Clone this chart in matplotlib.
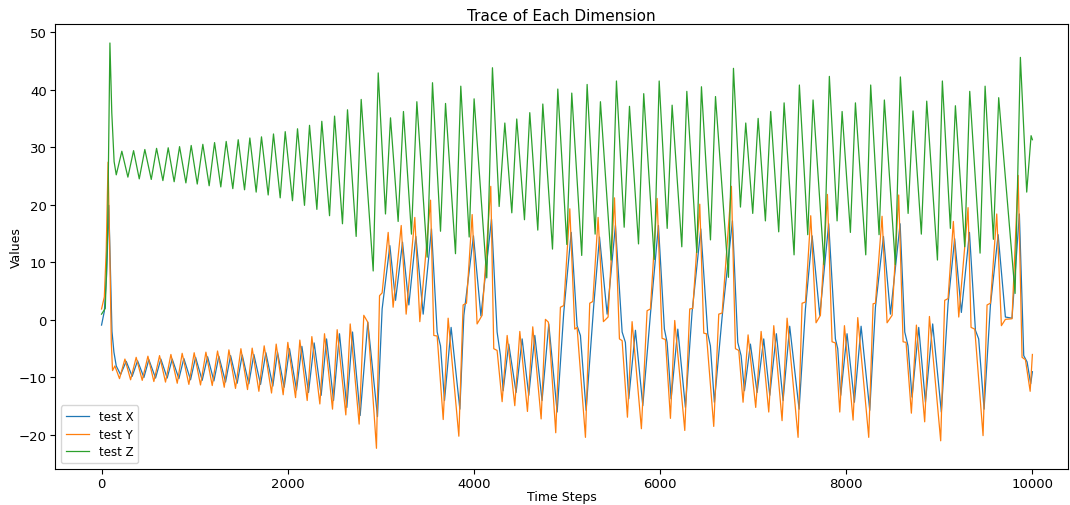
import numpy as np
from matplotlib import pyplot as plt

# (time step, value) pairs: extrema and shoulders
test_x = [
    (0, -0.9), (30, 1.5), (55, 8.0), (78, 19.9), (95, 9.0), (112, -2.0), (133, -5.6), (158, -8.0), (204, -9.5),
    (265, -7.2), (329, -9.8), (387, -7.1), (455, -10.0), (508, -6.9), (580, -10.1), (637, -6.8), (705, -10.1),
    (759, -6.8), (831, -10.2), (884, -6.7), (956, -10.4), (1010, -6.5), (1081, -10.5), (1139, -6.4), (1207, -10.6),
    (1260, -6.3), (1332, -10.8), (1386, -6.2), (1457, -11.0), (1511, -6.1), (1582, -11.1), (1636, -6.0),
    (1708, -11.2), (1765, -5.7), (1840, -11.5), (1890, -5.6), (1962, -11.7),
    (2019, -5.0), (2094, -12.2), (2152, -4.6), (2223, -12.6), (2284, -4.0), (2359, -13.1), (2417, -3.3),
    (2492, -14.0), (2556, -2.4), (2635, -15.2), (2696, -2.1), (2778, -16.6), (2860, -0.4), (2964, -16.8),
    (3014, 1.9), (3097, 12.9), (3158, 3.4), (3233, 13.5), (3301, 2.6), (3376, 14.5), (3455, 1.0), (3544, 15.8),
    (3605, -2.1), (3641, -4.5), (3684, -14.0), (3755, -1.3), (3849, -15.5), (3892, 0.8), (3995, 14.6),
    (4075, 0.7), (4189, 17.5), (4249, -2.1), (4285, -6.2), (4314, -12.3), (4374, -4.2), (4453, -12.6),
    (4518, -3.3), (4589, -13.1), (4654, -2.7), (4732, -14.0), (4804, -0.7), (4894, -16.0), (4965, 1.3),
    (5045, 15.2), (5108, -1.0), (5144, -2.7), (5205, -15.7), (5287, 2.5), (5349, 14.4), (5431, 1.0),
    (5520, 16.4), (5592, -2.1), (5627, -3.9), (5663, -13.7), (5735, -1.8), (5814, -14.9), (5896, 1.0),
    (5982, 16.4), (6046, -1.6), (6075, -3.9), (6118, -13.7), (6190, -1.6), (6272, -15.2), (6343, 1.3),
    (6437, 15.8), (6512, -2.4), (6540, -4.5), (6583, -14.3), (6666, 0.5), (6777, 17.2), (6834, -3.9),
    (6870, -6.2), (6906, -12.3), (6970, -4.2), (7042, -12.6), (7113, -3.3), (7178, -13.1), (7249, -2.4),
    (7321, -14.0), (7392, -1.1), (7493, -15.5), (7561, 1.9), (7633, 14.6), (7715, 0.8), (7811, 16.7),
    (7883, -3.3), (7908, -5.0), (7940, -13.1), (8008, -2.4), (8087, -14.3), (8159, -1.1), (8252, -15.7),
    (8313, 2.2), (8399, 14.5), (8474, 1.0), (8578, 16.7), (8628, -2.1), (8663, -4.5), (8706, -13.4),
    (8778, -1.3), (8850, -14.3), (8928, -0.7), (9021, -16.0), (9093, 2.8), (9164, 14.1), (9236, 1.3),
    (9323, 15.2), (9387, -1.8), (9422, -3.3), (9480, -15.5), (9548, 2.5), (9631, 14.8), (9709, 0.5),
    (9780, 0.3), (9859, 18.4), (9906, -6.2), (9942, -7.3), (9981, -11.1), (9999, -9.0),
]

test_y = [
    (0, 1.9), (30, 4.0), (50, 12.0), (70, 27.4), (88, 12.0), (105, -4.0), (118, -8.8), (143, -8.0), (193, -10.2),
    (251, -6.8), (312, -10.4), (372, -6.5), (437, -10.5), (498, -6.3), (562, -10.7), (623, -6.2), (687, -10.8),
    (745, -6.0), (813, -11.0), (866, -5.8), (938, -11.2), (995, -5.7), (1063, -11.3), (1121, -5.6),
    (1189, -11.4), (1246, -5.4), (1318, -11.7), (1368, -5.2), (1439, -11.9), (1497, -5.0), (1568, -12.1),
    (1618, -4.9), (1690, -12.4), (1747, -4.5), (1826, -12.7), (1876, -4.2), (1951, -13.0),
    (2001, -3.9), (2084, -13.5), (2130, -3.5), (2209, -14.0), (2259, -2.9), (2345, -14.6), (2395, -2.4),
    (2481, -15.5), (2531, -1.7), (2624, -16.5), (2671, -0.7), (2767, -18.1), (2817, 0.8), (2860, -0.4),
    (2953, -22.3), (2986, 4.2), (3014, 4.7), (3079, 15.2), (3132, 2.2), (3219, 16.4), (3272, 1.0),
    (3365, 17.8), (3419, -0.3), (3534, 20.8), (3569, -2.7), (3605, -2.8), (3670, -17.3), (3723, 0.3),
    (3838, -20.2), (3884, 2.6), (3920, 2.9), (3981, 18.3), (4034, -0.7), (4088, 0.8), (4181, 23.2),
    (4213, -5.0), (4249, -5.3), (4303, -14.2), (4357, -2.7), (4439, -14.9), (4493, -2.0), (4575, -15.9),
    (4632, -1.2), (4722, -17.2), (4768, 0.1), (4800, -0.4), (4879, -19.6), (4929, 2.2), (4965, 2.5),
    (5030, 19.3), (5083, -1.6), (5108, -1.3), (5198, -20.4), (5244, 2.9), (5277, 3.2), (5334, 17.8),
    (5391, -0.3), (5441, 0.5), (5510, 21.2), (5563, -3.3), (5592, -3.6), (5649, -16.9), (5699, -0.3),
    (5799, -18.9), (5860, 1.6), (5896, 1.9), (5968, 21.1), (6021, -3.2), (6057, -3.4), (6111, -17.1),
    (6157, -0.1), (6265, -19.2), (6318, 1.9), (6351, 2.0), (6426, 20.1), (6469, -2.3), (6497, -2.4),
    (6576, -18.5), (6630, 1.0), (6666, 1.2), (6766, 23.2), (6809, -5.0), (6845, -5.3), (6891, -14.3),
    (6945, -2.6), (7027, -15.2), (7085, -2.0), (7167, -16.0), (7221, -1.0), (7310, -17.5), (7364, 0.3),
    (7482, -20.4), (7525, 2.9), (7561, 3.1), (7618, 18.1), (7675, -0.5), (7722, 0.8), (7797, 21.8),
    (7847, -3.8), (7883, -4.0), (7930, -16.0), (7980, -1.0), (8073, -17.4), (8123, 0.4), (8241, -20.4),
    (8288, 2.8), (8313, 2.9), (8384, 18.0), (8438, -0.5), (8492, 0.8), (8563, 21.7), (8610, -3.8),
    (8642, -3.9), (8699, -16.2), (8753, -0.9), (8842, -17.7), (8893, 0.6), (9014, -21.0), (9057, 3.4),
    (9093, 3.7), (9150, 17.1), (9208, 0.5), (9308, 19.5), (9340, -1.3), (9380, -1.6), (9469, -20.1),
    (9512, 2.6), (9548, 2.9), (9616, 18.4), (9666, -1.0), (9709, 0.1), (9780, 0.2), (9846, 25.1),
    (9888, -6.5), (9924, -6.9), (9975, -12.4), (9999, -6.0),
]

test_z = [
    (0, 1.0), (40, 2.0), (65, 15.0), (90, 48.1), (110, 36.0), (135, 27.5), (158, 25.2),
    (218, 29.3), (283, 24.8), (344, 29.4), (405, 24.5), (465, 29.6), (534, 24.4), (591, 29.8), (659, 24.2),
    (716, 29.9), (780, 24.0), (838, 30.1), (906, 23.8), (963, 30.3), (1028, 23.6), (1088, 30.5), (1156, 23.3),
    (1214, 30.8), (1281, 23.1), (1339, 31.0), (1410, 22.8), (1468, 31.3), (1536, 22.6), (1593, 31.6),
    (1661, 22.2), (1718, 31.8), (1790, 21.7), (1847, 32.3), (1919, 21.2), (1973, 32.7),
    (2051, 20.7), (2105, 33.2), (2180, 19.9), (2234, 33.8), (2313, 19.2), (2366, 34.5), (2449, 18.1),
    (2503, 35.4), (2588, 16.7), (2642, 36.5), (2735, 14.5), (2789, 38.3), (2918, 8.5), (2972, 42.9),
    (3050, 18.4), (3104, 35.1), (3186, 17.1), (3243, 36.2), (3329, 14.9), (3387, 37.9), (3498, 10.9),
    (3555, 41.2), (3641, 15.4), (3695, 37.6), (3802, 11.5), (3859, 40.6), (3949, 14.4),
    (4002, 38.4), (4138, 7.3), (4199, 43.8), (4271, 19.7), (4332, 34.2), (4407, 18.6), (4460, 34.9),
    (4543, 17.4), (4600, 36.0), (4686, 15.6), (4740, 37.5), (4844, 12.3), (4901, 40.1), (4998, 13.1),
    (5051, 39.4), (5158, 11.2), (5216, 40.9), (5302, 14.9), (5359, 37.9), (5474, 10.4), (5531, 41.5),
    (5614, 16.1), (5671, 37.1), (5768, 13.2), (5824, 39.3), (5937, 10.5),
    (5990, 41.5), (6076, 15.9), (6129, 37.3), (6233, 12.7), (6287, 39.7), (6394, 11.7), (6444, 40.5),
    (6541, 13.9), (6595, 38.8), (6734, 7.4), (6788, 43.7), (6863, 19.6), (6920, 34.2), (6995, 18.5),
    (7053, 35.0), (7131, 17.2), (7188, 36.2), (7274, 15.3), (7332, 37.7), (7439, 11.3), (7496, 40.8),
    (7586, 14.8), (7643, 38.2), (7761, 9.6), (7818, 42.3), (7901, 17.2),
    (7955, 36.2), (8044, 15.2), (8098, 37.7), (8209, 11.3), (8262, 40.8), (8352, 14.8), (8409, 38.2),
    (8527, 9.6), (8581, 42.2), (8664, 18.5), (8717, 36.3), (8806, 14.9), (8864, 38.0), (8979, 10.4),
    (9032, 41.5), (9118, 15.9), (9172, 37.2), (9272, 12.7), (9326, 39.7), (9437, 11.6), (9491, 40.6),
    (9580, 14.0), (9637, 38.6), (9813, 4.6), (9870, 45.6), (9938, 22.2), (9985, 32.0), (9999, 31.3),
]

labels = ["test X", "test Y", "test Z"]

fig = plt.figure(figsize=(10.7, 5.06), dpi=100)
ax = fig.add_axes([0.0514, 0.0711, 0.9466, 0.8795])

for series, label in zip([test_x, test_y, test_z], labels):
    steps, vals = zip(*series)
    ax.plot(steps, vals, label=label, linewidth=0.9)

ax.set_xlim(-500, 10380)
ax.set_ylim(-25.9, 51.4)
ax.set_title("Trace of Each Dimension", fontsize=11, pad=3)
ax.set_xlabel("Time Steps", fontsize=9, labelpad=0)
ax.set_ylabel("Values", fontsize=9, labelpad=-3)
ax.tick_params(labelsize=9.5, pad=2.5)
ax.legend(loc="lower left", fontsize=8.5, labelspacing=0.4)

fig.savefig("out.png", dpi=100)
